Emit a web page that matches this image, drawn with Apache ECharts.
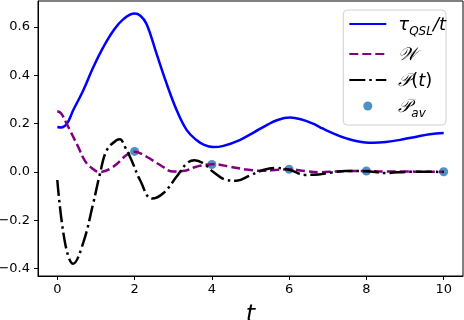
<!DOCTYPE html>
<html>
<head>
<meta charset="utf-8">
<script src="https://cdn.jsdelivr.net/npm/echarts@6/dist/echarts.min.js"></script>
<style>
html, body { margin: 0; padding: 0; background: #fff; }
#main { width: 464px; height: 320px; }
</style>
</head>
<body>
<div id="main"></div>
<script>
// 数据
var xTicks = [0, 2, 4, 6, 8, 10];
var yTicks = [-0.4, -0.2, 0, 0.2, 0.4, 0.6];

var tauT = [0, 0.1, 0.25, 0.41, 0.67, 0.93, 1.19, 1.45, 1.71, 2.0, 2.15, 2.31, 2.57, 2.83, 3.09, 3.35, 3.6, 3.8, 4.03, 4.3, 4.72, 5.1, 5.41, 5.7, 6.02, 6.3, 6.62, 6.79, 7.05, 7.48, 7.97, 8.17, 8.5, 8.95, 9.3, 9.64, 10];
var tauY = [0.186, 0.184, 0.2, 0.255, 0.337, 0.433, 0.516, 0.584, 0.632, 0.655, 0.646, 0.612, 0.488, 0.365, 0.255, 0.173, 0.132, 0.112, 0.103, 0.108, 0.132, 0.165, 0.193, 0.215, 0.225, 0.218, 0.2, 0.186, 0.166, 0.139, 0.122, 0.121, 0.124, 0.135, 0.146, 0.156, 0.161];

var wT = [0, 0.1, 0.24, 0.54, 0.7, 0.85, 1.1, 1.45, 1.79, 2.0, 2.31, 2.66, 3.0, 3.3, 3.6, 4.03, 4.47, 4.9, 5.33, 5.7, 6.02, 6.4, 6.79, 7.2, 7.6, 8.0, 8.5, 9.0, 9.5, 10];
var wY = [0.251, 0.242, 0.2, 0.104, 0.05, 0.022, 0.0, 0.022, 0.07, 0.084, 0.063, 0.029, 0.002, 0.005, 0.022, 0.032, 0.022, 0.01, 0.005, 0.009, 0.011, 0.004, -0.001, 0.002, 0.004, 0.004, 0.002, 0.002, 0.001, 0.001];

var pT = [0, 0.2, 0.41, 0.67, 0.93, 1.1, 1.28, 1.54, 1.62, 1.75, 1.92, 2.14, 2.45, 2.74, 3.09, 3.35, 3.55, 3.78, 4.03, 4.38, 4.64, 4.98, 5.33, 5.64, 6.02, 6.41, 6.76, 7.1, 7.45, 8.0, 8.48, 9.17, 9.6, 10];
var pY = [-0.033, -0.293, -0.379, -0.293, -0.129, -0.01, 0.09, 0.132, 0.135, 0.104, 0.049, -0.033, -0.11, -0.088, -0.019, 0.035, 0.049, 0.036, 0.001, -0.033, -0.036, -0.015, 0.008, 0.017, 0.008, -0.012, -0.01, -0.002, 0.004, 0.003, -0.004, 0.001, 0.001, 0.0];

var avT = [2, 4, 6, 8, 10];
var avY = [0.085, 0.031, 0.011, 0.004, 0.001];

function pairs(xs, ys) {
	var out = [];
	for (var i = 0; i < xs.length; i++) {
		out.push([xs[i], ys[i]]);
	}
	return out;
}

var legendText = {
	tau: '{i|τ}{sub|QSL}{i|/t}',
	w: '{i|𝒲}',
	p: '{i|𝒫}{n|(}{i|t}{n|)}',
	av: '{i|𝒫}{sub|av}'
};

// 图例里的小圆点(留空白让圆点变小)
var dotIcon = 'path://M0,0L0,0M37,14L37,14M18.5,2.5A4.5,4.5,0,1,1,18.5,11.5A4.5,4.5,0,1,1,18.5,2.5Z';

var myChart = echarts.init(document.getElementById('main'));
var option = {
	backgroundColor: '#fff',
	animation: false,
	textStyle: { fontFamily: 'DejaVu Sans' },
	grid: {
		left: 38, right: 1, top: 1, bottom: 44,
		outerBoundsMode: 'none',
		containLabel: false,
		show: true, borderColor: '#000', borderWidth: 1
	},
	legend: {
		orient: 'vertical',
		right: 18,
		top: 10,
		padding: [6, 0, 5, 5],
		itemWidth: 37,
		itemHeight: 14,
		itemGap: 8,
		backgroundColor: 'rgba(255,255,255,0.8)',
		borderColor: '#d0d0d0',
		borderWidth: 1,
		borderRadius: 4,
		data: [
			{ name: 'tau', itemStyle: { opacity: 0 } },
			{ name: 'w', itemStyle: { opacity: 0 } },
			{ name: 'p', itemStyle: { opacity: 0 } },
			{ name: 'av', icon: dotIcon }
		],
		formatter: function (name) {
			return legendText[name];
		},
		textStyle: {
			padding: [0, 0, 0, 7],
			rich: {
				i: { fontSize: 18, lineHeight: 20, fontStyle: 'italic', color: '#000', fontFamily: 'DejaVu Sans', verticalAlign: 'bottom' },
				n: { fontSize: 18, lineHeight: 20, color: '#000', fontFamily: 'DejaVu Sans', verticalAlign: 'bottom' },
				sub: { fontSize: 12, lineHeight: 14, fontStyle: 'italic', color: '#000', fontFamily: 'DejaVu Sans', verticalAlign: 'bottom', padding: [0, 0, -4, 0] }
			}
		}
	},
	xAxis: {
		type: 'value',
		min: -0.5,
		max: 10.5,
		name: 't',
		nameLocation: 'middle',
		nameGap: 28,
		nameTextStyle: { fontSize: 24, fontStyle: 'italic', color: '#000', fontFamily: 'DejaVu Sans' },
		axisLine: { show: true, onZero: false, lineStyle: { color: '#000', width: 1 } },
		axisTick: { show: true, length: 4, customValues: xTicks, lineStyle: { color: '#000' } },
		axisLabel: { customValues: xTicks, fontSize: 13, color: '#000', margin: 7 },
		splitLine: { show: false }
	},
	yAxis: {
		type: 'value',
		min: -0.43,
		max: 0.707,
		axisLine: { show: true, onZero: false, lineStyle: { color: '#000', width: 1 } },
		axisTick: { show: true, length: 4, customValues: yTicks, lineStyle: { color: '#000' } },
		axisLabel: {
			customValues: yTicks, fontSize: 13, color: '#000', margin: 8,
			formatter: function (v) {
				return v.toFixed(1).replace('-', '\u2212');
			}
		},
		splitLine: { show: false }
	},
	series: [{
		name: 'tau',
		type: 'line',
		smooth: 0.4,
		showSymbol: false,
		symbol: 'none',
		lineStyle: { color: '#0000ff', width: 2.5 },
		itemStyle: { color: '#0000ff' },
		data: pairs(tauT, tauY)
	}, {
		name: 'w',
		type: 'line',
		smooth: 0.4,
		showSymbol: false,
		symbol: 'none',
		lineStyle: { color: '#800080', width: 2.5, type: [9, 4] },
		itemStyle: { color: '#800080' },
		data: pairs(wT, wY)
	}, {
		name: 'p',
		type: 'line',
		smooth: 0.4,
		showSymbol: false,
		symbol: 'none',
		lineStyle: { color: '#000', width: 2.5, type: [16, 4, 2.5, 4] },
		itemStyle: { color: '#000' },
		data: pairs(pT, pY)
	}, {
		name: 'av',
		type: 'scatter',
		symbolSize: 9,
		itemStyle: { color: '#1f77b4' },
		data: pairs(avT, avY)
	}]
};
myChart.setOption(option);
</script>
</body>
</html>
